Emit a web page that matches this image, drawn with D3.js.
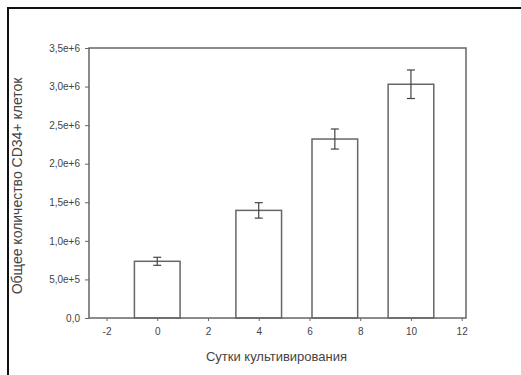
<!DOCTYPE html>
<html>
<head>
<meta charset="utf-8">
<script src="https://cdn.jsdelivr.net/npm/d3@7"></script>
<style>
  body { margin: 0; background: #fff; }
  text { font-family: "Liberation Sans", Arial, sans-serif; fill: #444; }
</style>
</head>
<body>
<div class="chart"></div>
<script>
// days of cultivation and total CD34+ cell count (mean +- error)
const days = [0, 4, 7, 10];
const counts = [735000, 1395000, 2320000, 3030000];
const errors = [52000, 100000, 130000, 185000];
const xTicks = [-2, 0, 2, 4, 6, 8, 10, 12];
const yTicks = [0, 500000, 1000000, 1500000, 2000000, 2500000, 3000000, 3500000];

const WIDTH = 521, HEIGHT = 375;
const MARGINS = { top: 48, right: 55, bottom: 57, left: 89 };

const svg = d3.select(".chart")
  .append("svg")
  .attr("width", WIDTH)
  .attr("height", HEIGHT);

// outer frame of the figure (top and left edges only visible)
svg.append("path")
  .attr("d", "M8," + HEIGHT + "V8H" + WIDTH)
  .attr("fill", "none")
  .attr("stroke", "#111")
  .attr("stroke-width", 2);

const xRange = d3.scaleLinear()
  .domain([-2.69, 12.17])
  .range([MARGINS.left, WIDTH - MARGINS.right]);

const yRange = d3.scaleLinear()
  .domain([0, 3500000])
  .range([HEIGHT - MARGINS.bottom, MARGINS.top]);

const fmt = function (v) {
  if (v === 0) return "0,0";
  const e = Math.floor(Math.log10(v));
  return (v / Math.pow(10, e)).toFixed(1).replace(".", ",") + "e+" + e;
};

const barW = xRange(1.8) - xRange(0);

// bars
svg.selectAll(".bar")
  .data(days)
  .enter()
    .append("rect")
    .attr("class", "bar")
    .attr("x", function (d) { return xRange(d) - barW / 2; })
    .attr("y", function (d, i) { return yRange(counts[i]); })
    .attr("width", barW)
    .attr("height", function (d, i) { return yRange(0) - yRange(counts[i]); })
    .attr("fill", "#fff")
    .attr("stroke", "#666")
    .attr("stroke-width", 1.5);

// error bars
const err = svg.selectAll(".err")
  .data(days)
  .enter()
    .append("g")
    .attr("class", "err")
    .attr("stroke", "#444")
    .attr("stroke-width", 1.2);
err.append("line")
  .attr("x1", function (d) { return xRange(d); })
  .attr("x2", function (d) { return xRange(d); })
  .attr("y1", function (d, i) { return yRange(counts[i] + errors[i]); })
  .attr("y2", function (d, i) { return yRange(counts[i] - errors[i]); });
[1, -1].forEach(function (s) {
  err.append("line")
    .attr("x1", function (d) { return xRange(d) - 4; })
    .attr("x2", function (d) { return xRange(d) + 4; })
    .attr("y1", function (d, i) { return yRange(counts[i] + s * errors[i]); })
    .attr("y2", function (d, i) { return yRange(counts[i] + s * errors[i]); });
});

// plot frame
svg.append("rect")
  .attr("x", MARGINS.left)
  .attr("y", MARGINS.top)
  .attr("width", WIDTH - MARGINS.right - MARGINS.left)
  .attr("height", HEIGHT - MARGINS.bottom - MARGINS.top)
  .attr("fill", "none")
  .attr("stroke", "#666")
  .attr("stroke-width", 1.5);

// axes
const xAxis = svg.append("g")
  .attr("transform", "translate(0," + yRange(0) + ")")
  .call(d3.axisBottom(xRange).tickValues(xTicks).tickFormat(String).tickSize(3).tickPadding(7));
const yAxis = svg.append("g")
  .attr("transform", "translate(" + MARGINS.left + ",0)")
  .call(d3.axisLeft(yRange).tickValues(yTicks).tickFormat(fmt).tickSize(4).tickPadding(5));

[xAxis, yAxis].forEach(function (a) {
  a.select(".domain").remove();
  a.selectAll(".tick line").attr("stroke", "#666");
  a.selectAll(".tick text")
    .style("font-size", "10px")
    .style("font-family", "'Liberation Sans', Arial, sans-serif")
    .attr("fill", "#444");
});

// axis titles
svg.append("text")
  .attr("x", xRange(4.7))
  .attr("y", 361)
  .attr("text-anchor", "middle")
  .style("font-size", "13px")
  .text("Сутки культивирования");

svg.append("text")
  .attr("transform", "translate(22," + 186 + ") rotate(-90)")
  .attr("text-anchor", "middle")
  .style("font-size", "14px")
  .text("Общее количество CD34+ клеток");
</script>
</body>
</html>
